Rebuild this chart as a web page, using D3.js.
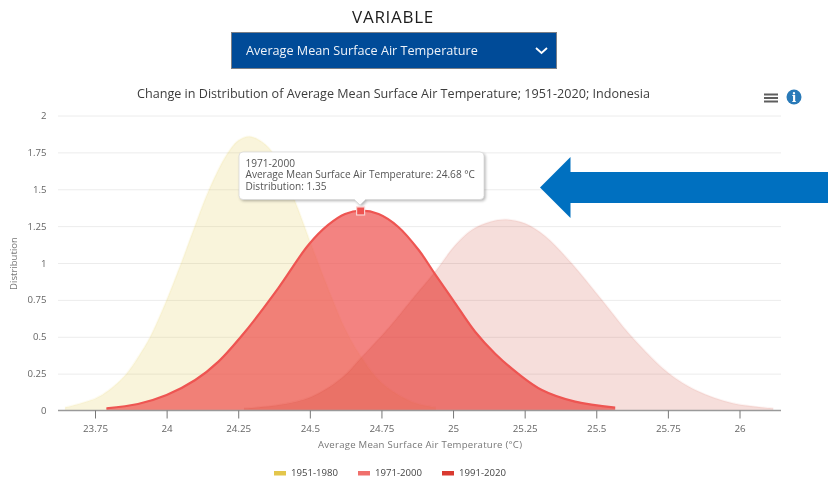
<!DOCTYPE html>
<html><head><meta charset="utf-8"><style>
html,body{margin:0;padding:0;background:#fff}
svg{display:block;font-family:"Open Sans",sans-serif;filter:blur(0.3px)}
</style><script src="https://cdn.jsdelivr.net/npm/d3@7"></script></head><body><svg id="c" width="828" height="481"></svg>
<script>
const seriesNames=["1951-1980","1971-2000","1991-2020"];
const temps1951=[23.645,23.75,23.797,23.855,23.9,23.942,23.994,24.053,24.093,24.146,24.21,24.25,24.29,24.337,24.375,24.448,24.5,24.54,24.58,24.62,24.675,24.75,24.855,24.94];
const dist1951=[0.02,0.08,0.135,0.237,0.36,0.496,0.72,1.01,1.22,1.487,1.735,1.83,1.858,1.815,1.735,1.42,1.15,0.945,0.748,0.565,0.375,0.188,0.06,0.02];
const temps1971=[23.79,23.9,24,24.1,24.18,24.274,24.39,24.495,24.564,24.623,24.678,24.74,24.808,24.88,24.937,25,25.077,25.147,25.227,25.31,25.426,25.566];
const dist1971=[0.015,0.044,0.105,0.207,0.33,0.534,0.83,1.122,1.258,1.332,1.355,1.332,1.246,1.088,0.925,0.749,0.534,0.385,0.25,0.139,0.06,0.02];
const temps1991=[24.27,24.39,24.507,24.61,24.68,24.774,24.855,24.937,25.007,25.065,25.13,25.187,25.25,25.32,25.414,25.52,25.624,25.752,25.85,25.977,26.118];
const dist1991=[0.015,0.037,0.094,0.218,0.36,0.557,0.749,0.94,1.12,1.224,1.28,1.295,1.269,1.185,0.998,0.749,0.5,0.254,0.135,0.049,0.015];
const xTicks=[23.75,24,24.25,24.5,24.75,25,25.25,25.5,25.75,26];
const yTicks=[0,0.25,0.5,0.75,1,1.25,1.5,1.75,2];
const tooltipLines=["1971-2000","Average Mean Surface Air Temperature: 24.68 °C","Distribution: 1.35"];
const legendColors=["#e3c64b","#f0706c","#d93a30"];

const svg=d3.select("#c");
const x=d3.scaleLinear().domain([23.75,26]).range([95,739.5]);
const y=d3.scaleLinear().domain([0,2]).range([410.5,115.5]);
const left=58,right=781;

svg.append("text").attr("x",393).attr("y",22.5).attr("text-anchor","middle").attr("font-size",17).attr("fill","#1c1c1c").attr("letter-spacing",0.7).text("VARIABLE");
svg.append("rect").attr("x",231.5).attr("y",32.5).attr("width",325).attr("height",36).attr("fill","#004b98").attr("stroke","#7a7f87");
svg.append("text").attr("x",246).attr("y",55).attr("font-size",12.65).attr("fill","#eef3f9").text("Average Mean Surface Air Temperature");
svg.append("path").attr("d","M536 48L541.5 53L547 48").attr("fill","none").attr("stroke","#fff").attr("stroke-width",1.8);
svg.append("text").attr("x",393.5).attr("y",97.5).attr("text-anchor","middle").attr("font-size",12.6).attr("fill","#3d3d3d").text("Change in Distribution of Average Mean Surface Air Temperature; 1951-2020; Indonesia");

const ay=svg.append("g").attr("transform",`translate(${left},0)`).call(d3.axisLeft(y).tickValues(yTicks).tickSize(0).tickPadding(11.5).tickFormat(d=>String(d)));
ay.select(".domain").remove();
ay.selectAll("text").attr("font-family","'Open Sans',sans-serif").attr("font-size",9.6).attr("fill","#666");
ay.selectAll(".tick").filter(d=>d>0).append("line").attr("x1",0).attr("x2",right-left).attr("stroke","#ececec");

const curve=d3.curveCatmullRom.alpha(0.5);
const area=(xs,ys)=>d3.area().x((d,i)=>x(xs[i])).y0(y(0)).y1(d=>y(d)).curve(curve)(ys);
const line=(xs,ys)=>d3.line().x((d,i)=>x(xs[i])).y(d=>y(d)).curve(curve)(ys);
svg.append("path").attr("d",area(temps1951,dist1951)).attr("fill","#e3c64b").attr("fill-opacity",.2);
svg.append("path").attr("d",line(temps1951,dist1951)).attr("fill","none").attr("stroke","#e3c64b").attr("stroke-opacity",.08).attr("stroke-width",2);
svg.append("path").attr("d",area(temps1971,dist1971)).attr("fill","#ef5350").attr("fill-opacity",.72);
svg.append("path").attr("d",area(temps1991,dist1991)).attr("fill","#c3230f").attr("fill-opacity",.15);
svg.append("path").attr("d",line(temps1991,dist1991)).attr("fill","none").attr("stroke","#c3230f").attr("stroke-opacity",.05).attr("stroke-width",2);
svg.append("path").attr("d",line(temps1971,dist1971)).attr("fill","none").attr("stroke","#ee5552").attr("stroke-width",2.2);

const ax=svg.append("g").attr("transform",`translate(0,${y(0)})`).call(d3.axisBottom(x).tickValues(xTicks).tickSize(8).tickPadding(7).tickFormat(d=>String(d)));
ax.select(".domain").attr("d",`M${left},0H${right}`).attr("stroke","#9a9a9a").attr("stroke-width",1.5);
ax.selectAll("line").attr("stroke","#777");
ax.selectAll("text").attr("font-family","'Open Sans',sans-serif").attr("font-size",9.8).attr("fill","#666");

svg.append("text").attr("x",420).attr("y",448).attr("text-anchor","middle").attr("font-size",9.6).attr("fill","#777").attr("textLength",204).text("Average Mean Surface Air Temperature (°C)");
svg.append("text").attr("transform","translate(17,263.5) rotate(-90)").attr("text-anchor","middle").attr("font-size",9.6).attr("fill","#777").text("Distribution");

const legendX=[274,358,442];
seriesNames.forEach((n,i)=>{
  svg.append("rect").attr("x",legendX[i]).attr("y",471).attr("width",12).attr("height",4.5).attr("fill",legendColors[i]);
  svg.append("text").attr("x",legendX[i]+17).attr("y",476).attr("font-size",9.6).attr("fill","#444").text(n);
});

const tip=svg.append("g");
const tipShape="M243,152H480a4,4 0 0 1 4,4V195.5a4,4 0 0 1 -4,4H365.5L360,205L354.5,199.5H243a4,4 0 0 1 -4,-4V156a4,4 0 0 1 4,-4Z";
tip.append("path").attr("d",tipShape).attr("fill","#000").attr("opacity",.3).attr("transform","translate(1.5,1.5)").style("filter","blur(1.5px)");
tip.append("path").attr("d",tipShape).attr("fill","#fff").attr("stroke","#d9d9d9").attr("stroke-width",.8);
const tipText=tip.append("text").attr("font-size",10.1).attr("fill","#555");
tooltipLines.forEach((t,i)=>tipText.append("tspan").attr("x",245.5).attr("y",[166.5,178,189.5][i]).text(t));
svg.append("rect").attr("x",x(24.68)-4.8).attr("y",y(1.35)-4.4).attr("width",8).attr("height",8).attr("fill","#ef5350").attr("stroke","#f9d0cf").attr("stroke-width",1.2);

[94.5,98,101.5].forEach(v=>svg.append("line").attr("x1",764).attr("x2",778).attr("y1",v).attr("y2",v).attr("stroke","#5e5e5e").attr("stroke-width",2));
svg.append("circle").attr("cx",794).attr("cy",97).attr("r",7.5).attr("fill","#2a7ab8");
svg.append("text").attr("x",794).attr("y",101.5).attr("text-anchor","middle").attr("font-size",12).attr("font-weight",800).attr("font-family","'DejaVu Serif',serif").attr("fill","#fff").text("i");

svg.append("polygon").attr("points","828,172 570.5,172 570.5,157 540,187.5 570.5,218 570.5,203 828,203").attr("fill","#0070c0");
</script></body></html>
